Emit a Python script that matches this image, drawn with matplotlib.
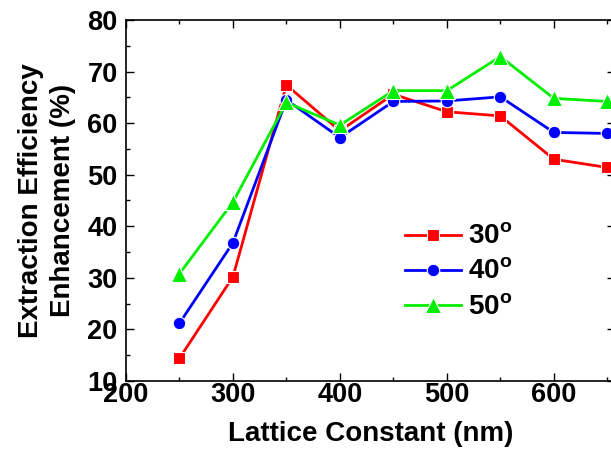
import matplotlib
matplotlib.use('Agg')
import matplotlib.pyplot as plt
from matplotlib.ticker import MultipleLocator

plt.rcParams['font.family'] = 'Liberation Sans'
plt.rcParams['font.weight'] = 'bold'
plt.rcParams['mathtext.fontset'] = 'custom'
plt.rcParams['mathtext.rm'] = 'Liberation Sans:bold'
plt.rcParams['mathtext.bf'] = 'Liberation Sans:bold'

# data
lattice = [250, 300, 350, 400, 450, 500, 550, 600, 650]
eff_30 = [14.4, 30.2, 67.4, 58.5, 65.6, 62.2, 61.4, 53.0, 51.4]
eff_40 = [21.2, 36.8, 64.5, 57.2, 64.2, 64.3, 65.1, 58.2, 58.0]
eff_50 = [30.8, 44.7, 64.0, 59.6, 66.3, 66.3, 72.9, 64.8, 64.2]
labels = ['30$^{\\rm o}$', '40$^{\\rm o}$', '50$^{\\rm o}$']

fig = plt.figure(figsize=(6.11, 4.51), dpi=100)
ax = fig.add_axes([0.2062, 0.1552, 0.80, 0.8005])

ax.plot(lattice, eff_30, '-s', color='#ff0000', lw=2, ms=8, mec='white', mew=0.8, label=labels[0])
ax.plot(lattice, eff_40, '-o', color='#0000ff', lw=2, ms=9, mec='white', mew=0.8, label=labels[1])
ax.plot(lattice, eff_50, '-^', color='#00ee00', lw=2, ms=11, mec='white', mew=0.8, label=labels[2])

ax.set_xlim(200, 657)
ax.set_ylim(10, 80)
ax.xaxis.set_major_locator(MultipleLocator(100))
ax.xaxis.set_minor_locator(MultipleLocator(50))
ax.yaxis.set_major_locator(MultipleLocator(10))
ax.yaxis.set_minor_locator(MultipleLocator(5))
ax.tick_params(which='both', direction='in', top=True, right=True, labelsize=19.5)
ax.tick_params(which='major', length=6, width=1)
ax.tick_params(which='minor', length=3, width=1)
ax.tick_params(axis='x', pad=1)
ax.tick_params(axis='y', pad=6)
for s in ax.spines.values():
    s.set_linewidth(1.2)

ax.set_xlabel('Lattice Constant (nm)', fontsize=20, fontweight='bold', labelpad=9)
ax.set_ylabel('Extraction Efficiency\nEnhancement (%)', fontsize=20,
              fontweight='bold', labelpad=8, linespacing=1.3)

ax.legend(loc='upper left', bbox_to_anchor=(0.571, 0.434), frameon=False,
          borderpad=0, borderaxespad=0, fontsize=20, handlelength=2.0,
          handletextpad=0.25, labelspacing=0.33)

fig.savefig('out.png', dpi=100)
